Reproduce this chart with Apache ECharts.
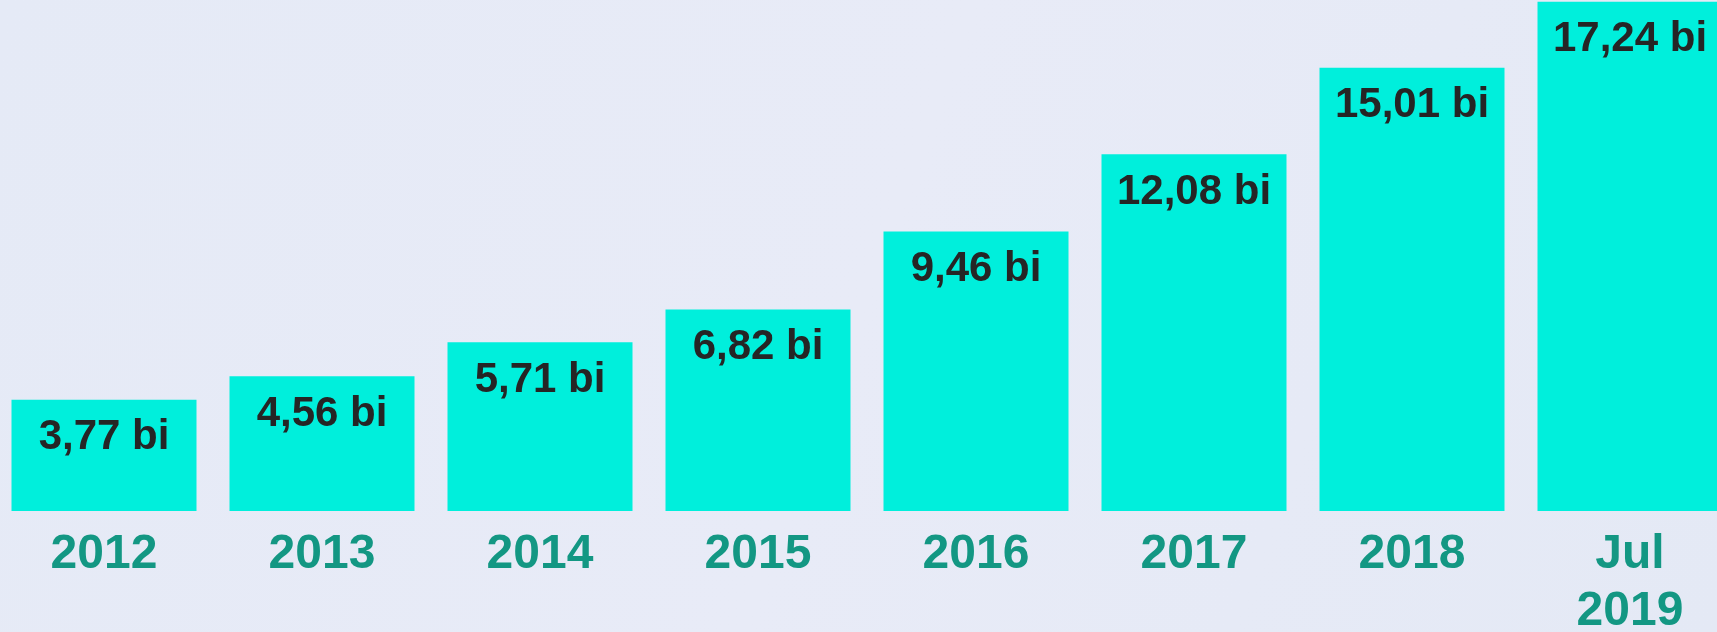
<!DOCTYPE html>
<html>
<head>
<meta charset="utf-8">
<script src="https://cdn.jsdelivr.net/npm/echarts@6/dist/echarts.min.js"></script>
<style>
html,body{margin:0;padding:0;background:#e6eaf5;}
#c{width:1717px;height:632px;}
</style>
</head>
<body>
<div id="c"></div>
<script>
const categories = ['2012', '2013', '2014', '2015', '2016', '2017', '2018', 'Jul\n2019'];
const values = [3.77, 4.56, 5.71, 6.82, 9.46, 12.08, 15.01, 17.24];
const unit = 'bi';

const chart = echarts.init(document.getElementById('c'), null, {renderer: 'canvas'});
chart.setOption({
  backgroundColor: {
    type: 'linear', x: 0, y: 0, x2: 1, y2: 1,
    colorStops: [
      {offset: 0, color: '#e5eaf6'},
      {offset: 0.5, color: '#e8ebf7'},
      {offset: 1, color: '#e4e9f5'}
    ]
  },
  animation: false,
  grid: {left: -5, right: -22, top: 0, bottom: 121, containLabel: false, outerBoundsMode: 'none'},
  xAxis: {
    type: 'category',
    data: categories,
    axisLine: {show: false},
    axisTick: {show: false},
    axisLabel: {
      margin: 15,
      color: '#139783',
      fontFamily: 'Liberation Sans, Arial, sans-serif',
      fontWeight: 'bold',
      fontSize: 48,
      lineHeight: 57,
      interval: 0
    }
  },
  yAxis: {
    type: 'value',
    min: 0,
    max: 17.3,
    show: false,
    splitLine: {show: false}
  },
  series: [{
    type: 'bar',
    data: values,
    barWidth: 185,
    itemStyle: {color: '#00efdc'},
    label: {
      show: true,
      position: 'insideTop',
      distance: 17,
      color: '#252525',
      fontFamily: 'Liberation Sans, Arial, sans-serif',
      fontWeight: 'bold',
      fontSize: 42,
      formatter: p => p.value.toFixed(2).replace('.', ',') + ' ' + unit
    }
  }]
});
</script>
</body>
</html>
